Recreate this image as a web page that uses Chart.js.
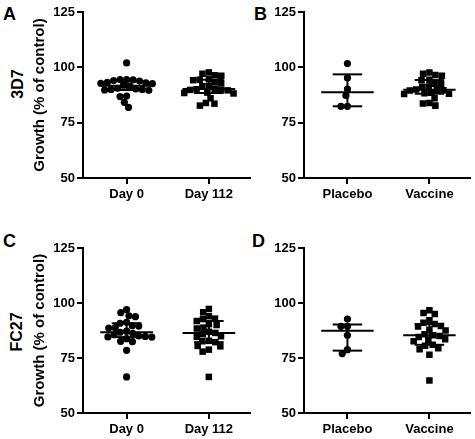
<!DOCTYPE html>
<html><head><meta charset="utf-8">
<script src="https://cdn.jsdelivr.net/npm/chart.js@4.4.1/dist/chart.umd.min.js"></script>
<style>
html,body{margin:0;padding:0;background:#fff;}
body{width:475px;height:439px;position:relative;overflow:hidden;font-family:Arial,"Liberation Sans",sans-serif;color:#000;}
canvas{position:absolute;}
.lt{position:absolute;font-weight:bold;font-size:18px;line-height:18px;}
.rl{position:absolute;font-weight:bold;font-size:16px;line-height:16px;white-space:nowrap;transform:translate(-50%,-50%) rotate(-90deg);}
</style></head>
<body>
<div class="lt" style="left:3px;top:5px;">A</div>
<div class="lt" style="left:254px;top:5px;">B</div>
<div class="lt" style="left:3px;top:232px;">C</div>
<div class="lt" style="left:252px;top:232px;">D</div>
<div class="rl" style="left:18px;top:84px;">3D7</div>
<div class="rl" style="left:17px;top:332px;">FC27</div>
<canvas id="cA" width="227" height="220" style="left:28px;top:0px;width:227px;height:220px;"></canvas>
<canvas id="cB" width="225" height="220" style="left:250px;top:0px;width:225px;height:220px;"></canvas>
<canvas id="cC" width="227" height="219" style="left:28px;top:220px;width:227px;height:219px;"></canvas>
<canvas id="cD" width="225" height="219" style="left:250px;top:220px;width:225px;height:219px;"></canvas>
<script>
// ---- data ----
const timeCategories = ['Day 0', 'Day 112'];
const groupCategories = ['Placebo', 'Vaccine'];
const yTicks = [50, 75, 100, 125];
const yAxisTitle = 'Growth (% of control)';

const a3D7Day0   = [102, 94.5, 94.5, 94.3, 94, 93.8, 93.2, 93, 92.8, 92.6, 91.9, 91.5, 90.5, 90.2, 90, 90, 89.8, 89.6, 87, 86.8, 84.2, 81.9];
const a3D7Day112 = [97.7, 97.1, 96.4, 96.2, 94.6, 94.4, 94.2, 93.2, 93, 91.5, 91.5, 90.2, 90.1, 90, 89.8, 89.6, 88.6, 88.4, 88.2, 86, 83.9, 83.6, 82.7];
const b3D7Placebo = [101.7, 95.2, 90.2, 87.3, 82.4, 82.4];
const b3D7Vaccine = [97.7, 97.1, 96.5, 96.2, 94.4, 94.2, 92.6, 92.4, 91.3, 91.1, 90.0, 89.8, 89.6, 89.5, 88.5, 88.3, 88.1, 88, 86, 83.9, 83.7, 82.7];
const cFC27Day0   = [97, 95.6, 94.2, 93.8, 91.2, 90.8, 89.7, 89.5, 88.8, 88.6, 87.2, 86.7, 86.2, 85.6, 85, 84.8, 84.6, 84.5, 83.8, 82.6, 82.4, 78.5, 66.4];
const cFC27Day112 = [97.3, 95.8, 94, 92.9, 92.7, 91.8, 90.4, 90, 88.8, 88.4, 86.9, 86.4, 85.8, 84.9, 84.6, 82.8, 82.6, 82.2, 80.5, 80.3, 78.8, 77.9, 66.4];
const dFC27Placebo = [92.7, 89.4, 89.4, 85.3, 78.8, 77];
const dFC27Vaccine = [96.7, 95.4, 95, 92.2, 91, 90.4, 89.6, 89.3, 87.8, 87.5, 85.8, 85.3, 85, 84.5, 83.5, 83.2, 82.6, 81, 80.6, 79.4, 79, 76.5, 64.8];

// ---- layout helpers ----
const FONT = 'Arial, "Liberation Sans", sans-serif';
const PX_PER_X = 83;   // approx px per x unit
function swarm(vals, pxY, d) {
  const placed = []; const offs = new Array(vals.length);
  const order = vals.map((v, i) => i).sort((a, b) => vals[b] - vals[a]);
  for (const i of order) {
    const y = vals[i] * pxY;
    const blocks = [];
    for (const p of placed) {
      const dy = Math.abs(p.y - y);
      if (dy < d) { const w = Math.sqrt(d * d - dy * dy); blocks.push([p.x - w, p.x + w]); }
    }
    const cands = [0];
    blocks.forEach(b => cands.push(b[0], b[1]));
    cands.sort((a, b) => Math.abs(a) - Math.abs(b) || a - b);
    let x = 0;
    for (const c of cands) { if (blocks.every(b => c <= b[0] + 1e-6 || c >= b[1] - 1e-6)) { x = c; break; } }
    placed.push({ x, y }); offs[i] = x / PX_PER_X;
  }
  return offs;
}
function quant(vals) {
  const s = [...vals].sort((a, b) => a - b); const n = s.length;
  const q = p => { const r = p * (n + 1); const lo = Math.floor(r); const f = r - lo;
    if (lo < 1) return s[0]; if (lo >= n) return s[n - 1]; return s[lo - 1] + f * (s[lo] - s[lo - 1]); };
  return { q1: q(0.25), med: q(0.5), q3: q(0.75) };
}
const statPlugin = {
  id: 'stats',
  afterDatasetsDraw(chart) {
    const ctx = chart.ctx, xs = chart.scales.x, ys = chart.scales.y;
    ctx.save(); ctx.strokeStyle = '#000'; ctx.lineWidth = 2; ctx.lineCap = 'butt';
    chart.data.datasets.forEach((ds, i) => {
      const st = quant(ds.raw); const cx = i + 1;
      const L = (x0, y0, x1, y1) => { ctx.beginPath(); ctx.moveTo(xs.getPixelForValue(x0), ys.getPixelForValue(y0)); ctx.lineTo(xs.getPixelForValue(x1), ys.getPixelForValue(y1)); ctx.stroke(); };
      L(cx - 0.32, st.med, cx + 0.32, st.med);
      L(cx, st.q1, cx, st.q3);
      L(cx - 0.18, st.q1, cx + 0.18, st.q1);
      L(cx - 0.18, st.q3, cx + 0.18, st.q3);
    });
    ctx.restore();
  }
};
function makeChart(id, cats, groups, o) {
  const pxY = o.pxY;
  const datasets = groups.map((g, i) => {
    const offs = swarm(g.vals, pxY, 6.6);
    return {
      raw: g.vals,
      data: g.vals.map((v, k) => ({ x: i + 1 + offs[k], y: v })),
      pointStyle: g.style, pointRadius: g.style === 'rect' ? 4.6 : 3.6,
      backgroundColor: '#000', borderColor: '#000', borderWidth: 0, pointHoverRadius: 0
    };
  });
  const tickFont = { family: FONT, size: 13, weight: 'bold' };
  new Chart(document.getElementById(id), {
    type: 'scatter',
    data: { datasets },
    plugins: [statPlugin],
    options: {
      responsive: false, animation: false, devicePixelRatio: 1,
      layout: { padding: { top: o.top, right: o.right, bottom: 0, left: 0 } },
      plugins: { legend: { display: false }, tooltip: { enabled: false } },
      scales: {
        x: {
          type: 'linear', min: 0.47, max: 2.5,
          afterBuildTicks: s => { s.ticks = cats.map((c, i) => ({ value: i + 1 })); },
          afterFit: s => { s.height = o.xH; },
          ticks: { callback: v => cats[v - 1], font: tickFont, color: '#000', padding: 3, autoSkip: false, maxRotation: 0 },
          grid: { drawOnChartArea: false, drawTicks: true, tickLength: 6, color: '#000', lineWidth: 2 },
          border: { display: true, color: '#000', width: 2 }
        },
        y: {
          min: 50, max: 125,
          afterBuildTicks: s => { s.ticks = yTicks.map(v => ({ value: v })); },
          afterFit: s => { s.width = o.yW; },
          ticks: { font: tickFont, color: '#000', padding: 2 },
          grid: { drawOnChartArea: false, drawTicks: true, tickLength: 6, color: '#000', lineWidth: 2 },
          border: { display: true, color: '#000', width: 2 },
          title: { display: !!o.title, text: o.title || '', color: '#000', font: { family: FONT, size: 15, weight: 'bold' }, padding: { top: 3, bottom: 0 } }
        }
      }
    }
  });
}
makeChart('cA', timeCategories, [{ vals: a3D7Day0, style: 'circle' }, { vals: a3D7Day112, style: 'rect' }], { top: 12, right: 5, xH: 42, yW: 55, title: yAxisTitle, pxY: 2.213 });
makeChart('cB', groupCategories, [{ vals: b3D7Placebo, style: 'circle' }, { vals: b3D7Vaccine, style: 'rect' }], { top: 12, right: 3, xH: 42, yW: 54, pxY: 2.213 });
makeChart('cC', timeCategories, [{ vals: cFC27Day0, style: 'circle' }, { vals: cFC27Day112, style: 'rect' }], { top: 28, right: 5, xH: 26, yW: 55, title: yAxisTitle, pxY: 2.2 });
makeChart('cD', groupCategories, [{ vals: dFC27Placebo, style: 'circle' }, { vals: dFC27Vaccine, style: 'rect' }], { top: 28, right: 3, xH: 26, yW: 54, pxY: 2.2 });
</script>
</body></html>
